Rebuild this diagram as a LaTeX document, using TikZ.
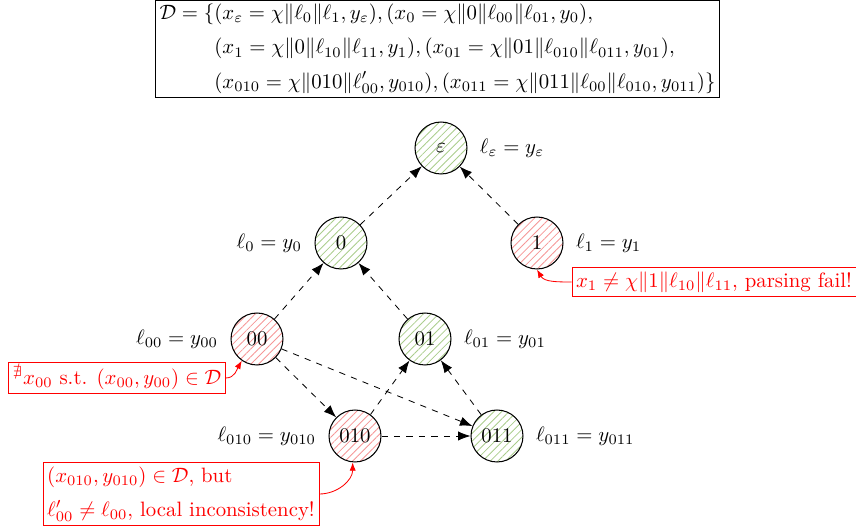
\documentclass[tikz,border=0pt]{standalone}
\usepackage{amsmath,amssymb}
\usetikzlibrary{patterns.meta,arrows.meta,positioning}
\definecolor{hgreen}{RGB}{170,205,140}
\definecolor{hred}{RGB}{245,150,150}
\begin{document}
\begin{tikzpicture}[x=0.0169cm,y=-0.0169cm,
  st/.style={circle,draw,minimum size=25pt,inner sep=0pt,line width=0.5pt},
  okn/.style={st,pattern={Lines[angle=45,distance=2.6pt,line width=0.4pt]},pattern color=hgreen},
  badn/.style={st,pattern={Lines[angle=45,distance=2.6pt,line width=0.4pt]},pattern color=hred},
  edge/.style={dashed,-{Latex[length=6pt,width=4.5pt]}},
  note/.style={draw=red,text=red,inner sep=2pt,align=left},
  notearrow/.style={red,-{Latex[length=4pt,width=3pt]}}]
\useasboundingbox (0,0) rectangle (856,531);
\node[draw,inner xsep=2pt,inner ysep=1pt] (D) at (437.5,49) {\setlength\jot{4.5pt}$\begin{aligned}\mathcal{D}=\{&(x_\varepsilon=\chi\|\ell_0\|\ell_1,y_\varepsilon),(x_0=\chi\|0\|\ell_{00}\|\ell_{01},y_0),\\
&(x_1=\chi\|0\|\ell_{10}\|\ell_{11},y_1),(x_{01}=\chi\|01\|\ell_{010}\|\ell_{011},y_{01}),\\
&(x_{010}=\chi\|010\|\ell'_{00},y_{010}),(x_{011}=\chi\|011\|\ell_{00}\|\ell_{010},y_{011})\}\end{aligned}$};
\node[okn] (e) at (441,148) {$\varepsilon$};
\node[okn] (n0) at (341,243) {0};
\node[badn] (n1) at (537,243) {1};
\node[badn] (n00) at (257,339) {00};
\node[okn] (n01) at (425,339) {01};
\node[badn] (n010) at (355,436) {010};
\node[okn] (n011) at (497,436) {011};
\node[right=2.5pt of e] (le) {$\ell_\varepsilon=y_\varepsilon$};
\node[left=2.5pt of n0] (l0) {$\ell_0=y_0$};
\node[right=2.5pt of n1] (l1) {$\ell_1=y_1$};
\node[left=2.5pt of n00] (l00) {$\ell_{00}=y_{00}$};
\node[right=2.5pt of n01] (l01) {$\ell_{01}=y_{01}$};
\node[left=2.5pt of n010] (l010) {$\ell_{010}=y_{010}$};
\node[right=2.5pt of n011] (l011) {$\ell_{011}=y_{011}$};
\draw[edge] (n0) -- (e);
\draw[edge] (n1) -- (e);
\draw[edge] (n00) -- (n0);
\draw[edge] (n01) -- (n0);
\draw[edge] (n010) -- (n01);
\draw[edge] (n011) -- (n01);
\draw[edge] (n00) -- (n010);
\draw[edge] (n00) -- (n011);
\draw[edge] (n010) -- (n011);
\node[note] (a1) at (714,282) {$x_1\neq\chi\|1\|\ell_{10}\|\ell_{11}$, parsing fail!};
\node[note] (a2) at (117,378) {$^{\nexists}x_{00}$ s.t. $(x_{00},y_{00})\in\mathcal{D}$};
\node[note] (a3) at (181,494) {$(x_{010},y_{010})\in\mathcal{D}$, but\\[4.5pt] $\ell'_{00}\neq\ell_{00},$ local inconsistency!};
\draw[notearrow] (a1.west) to[out=180,in=-60] (n1.south);
\draw[notearrow] (a2.east) to[out=0,in=-120] (n00.235);
\draw[notearrow] (a3.east) to[out=0,in=-90] (n010.265);
\end{tikzpicture}
\end{document}
